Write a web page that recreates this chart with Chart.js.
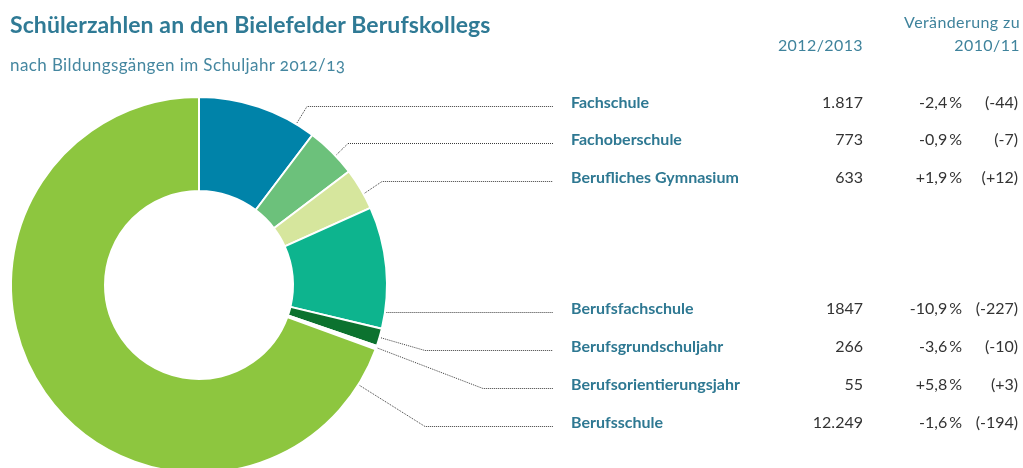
<!DOCTYPE html>
<html lang="de">
<head>
<meta charset="utf-8">
<title>Schülerzahlen an den Bielefelder Berufskollegs</title>
<script src="https://cdn.jsdelivr.net/npm/chart.js@4.4.1/dist/chart.umd.min.js"></script>
<style>
  html, body { margin: 0; padding: 0; background: #ffffff; overflow: hidden; }
  body { width: 1023px; height: 468px; position: relative; font-family: Lato, "Open Sans", sans-serif; }
  #chart { position: absolute; left: 0; top: 0; }
  .t { position: absolute; white-space: nowrap; line-height: 1; }
  .title { left: 10px; top: 13px; font-size: 23px; letter-spacing: 0.1px; font-weight: 700; color: #2f7a95; }
  .subtitle { left: 10px; top: 56px; font-size: 17px; letter-spacing: 0.4px; color: #4587a0; font-feature-settings: "onum"; }
  .head { font-size: 16px; letter-spacing: 0.4px; color: #3f839c; text-align: right; }
  .label { left: 571px; font-size: 16px; font-weight: 700; color: #2e7892; }
  .num { font-size: 16px; color: #333333; text-align: right; }
</style>
</head>
<body>
<canvas id="chart" width="1023" height="480"></canvas>
<div id="texts"></div>
<script>
// Bildungsgänge an den Bielefelder Berufskollegs, Schuljahr 2012/13
const categories = ['Fachschule', 'Fachoberschule', 'Berufliches Gymnasium', 'Berufsfachschule',
                    'Berufsgrundschuljahr', 'Berufsorientierungsjahr', 'Berufsschule'];
const students = [1817, 773, 633, 1847, 266, 55, 12249];
const studentLabels = ['1.817', '773', '633', '1847', '266', '55', '12.249'];
const changePercent = ['-2,4\u2009%', '-0,9\u2009%', '+1,9\u2009%', '-10,9\u2009%', '-3,6\u2009%', '+5,8\u2009%', '-1,6\u2009%'];
const changeAbsolute = ['(-44)', '(-7)', '(+12)', '(-227)', '(-10)', '(+3)', '(-194)'];

// Segment colours
const sliceColors = ['#0083a9', '#6cc17b', '#d6e69d', '#0db48e', '#0c722f', '#ffffff', '#8dc63f'];

// Table rows (vertical centre of each row) and leader-line routing
const rowY = [102, 139, 177, 308, 346, 384, 422];
const anchorFraction = [0.84, 0.6, 0.63, 0.87, 0.5, 0.5, 0.048];
const elbowX = [307, 348, 382, null, 425, 483, 425];
const lineEndX = 553;

// Table text
const texts = document.getElementById('texts');
function addText(cls, text, style) {
  const d = document.createElement('div');
  d.className = 't ' + cls;
  d.textContent = text;
  Object.assign(d.style, style);
  texts.appendChild(d);
  return d;
}
addText('title', 'Schülerzahlen an den Bielefelder Berufskollegs', {});
addText('subtitle', 'nach Bildungsgängen im Schuljahr 2012/13', {});
addText('head', '2012/2013', { right: (1023 - 863) + 'px', top: '37px' });
addText('head', 'Veränderung zu', { right: (1023 - 1020) + 'px', top: '14px' });
addText('head', '2010/11', { right: (1023 - 1020) + 'px', top: '37px' });
categories.forEach((c, i) => {
  const top = (rowY[i] - 8) + 'px';
  addText('label', c, { top });
  addText('num', studentLabels[i], { right: (1023 - 863) + 'px', top });
  addText('num', changePercent[i], { right: (1023 - 962) + 'px', top });
  addText('num', changeAbsolute[i], { right: (1023 - 1018) + 'px', top });
});

// Dotted leader lines from each segment to its table row
const leaderLines = {
  id: 'leaderLines',
  afterDatasetsDraw(chart) {
    const ctx = chart.ctx;
    const arcs = chart.getDatasetMeta(0).data;
    ctx.save();
    ctx.strokeStyle = '#3c3c3c';
    ctx.lineWidth = 1;
    ctx.setLineDash([1, 1]);
    arcs.forEach((arc, i) => {
      const p = arc.getProps(['x', 'y', 'startAngle', 'endAngle', 'outerRadius'], true);
      const a = p.startAngle + anchorFraction[i] * (p.endAngle - p.startAngle);
      const r = p.outerRadius + 1.5;
      const ax = p.x + r * Math.cos(a);
      const ay = p.y + r * Math.sin(a);
      const ly = Math.round(rowY[i] + 4) + 0.5;
      const ex = elbowX[i] === null ? ax : elbowX[i];
      ctx.beginPath();
      ctx.moveTo(ax, elbowX[i] === null ? ly : ay);
      ctx.lineTo(ex, ly);
      ctx.lineTo(lineEndX, ly);
      ctx.stroke();
    });
    ctx.restore();
  }
};

new Chart(document.getElementById('chart'), {
  type: 'doughnut',
  data: {
    labels: categories,
    datasets: [{
      data: students,
      backgroundColor: sliceColors,
      borderColor: '#ffffff',
      borderWidth: 2,
      hoverOffset: 0
    }]
  },
  options: {
    responsive: false,
    animation: false,
    cutout: '50%',
    layout: { padding: { left: 10, top: 96, right: 635, bottom: 6 } },
    plugins: { legend: { display: false }, tooltip: { enabled: false } },
    events: []
  },
  plugins: [leaderLines]
});
</script>
</body>
</html>
